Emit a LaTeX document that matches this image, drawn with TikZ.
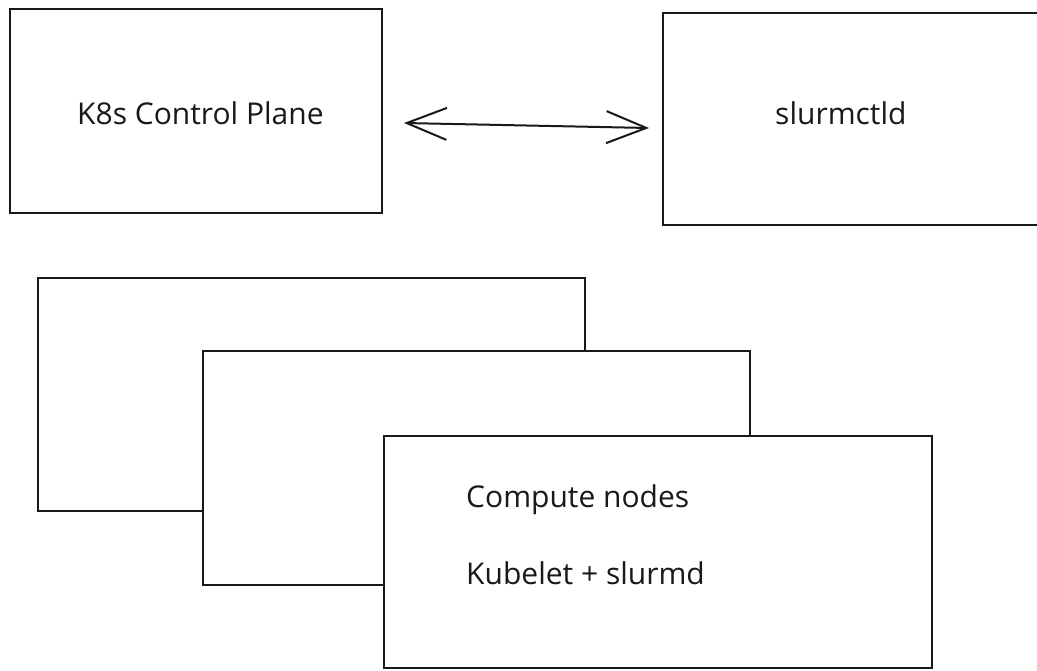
\documentclass[tikz,border=0pt]{standalone}
\usepackage{fontspec}
\setmainfont{Open Sans}
\usetikzlibrary{arrows.meta}
\begin{document}
\begin{tikzpicture}[x=1pt,y=-1pt,
  sbox/.style={draw=black!90, line width=2pt, fill=white, rectangle, inner sep=0pt},
  lbl/.style={font=\fontsize{30}{36}\selectfont, text=black!90, inner sep=0pt}]
\useasboundingbox (0,0) rectangle (1037,670);
\begin{scope}
\clip (0,0) rectangle (1037,670);
% top boxes
\node[sbox, minimum width=372pt, minimum height=204pt] (k8s) at (196,111) {};
\node[sbox, minimum width=392pt, minimum height=212pt] (slurm) at (859,119) {};
% stacked compute node boxes
\node[sbox, minimum width=547pt, minimum height=233pt] (back) at (311.5,394.5) {};
\node[sbox, minimum width=547pt, minimum height=234pt] (mid) at (476.5,468) {};
\node[sbox, minimum width=548pt, minimum height=232pt] (front) at (658,552) {};
\end{scope}
% labels
\node[lbl, anchor=base west] (t1) at (77,124) {K8s Control Plane};
\node[lbl, anchor=base west] (t2) at (775,124) {slurmctld};
\node[lbl, anchor=base west] (t3) at (466,507) {Compute nodes};
\node[lbl, anchor=base west] (t4) at (466,584) {Kubelet + slurmd};
% bidirectional arrow
\draw[line width=2pt, black!90, {Straight Barb[length=40pt,width=32pt]}-{Straight Barb[length=40pt,width=32pt]}]
  ([xshift=21pt,yshift=-12pt]k8s.east) -- ([xshift=-13pt,yshift=-9pt]slurm.west);
\end{tikzpicture}
\end{document}
